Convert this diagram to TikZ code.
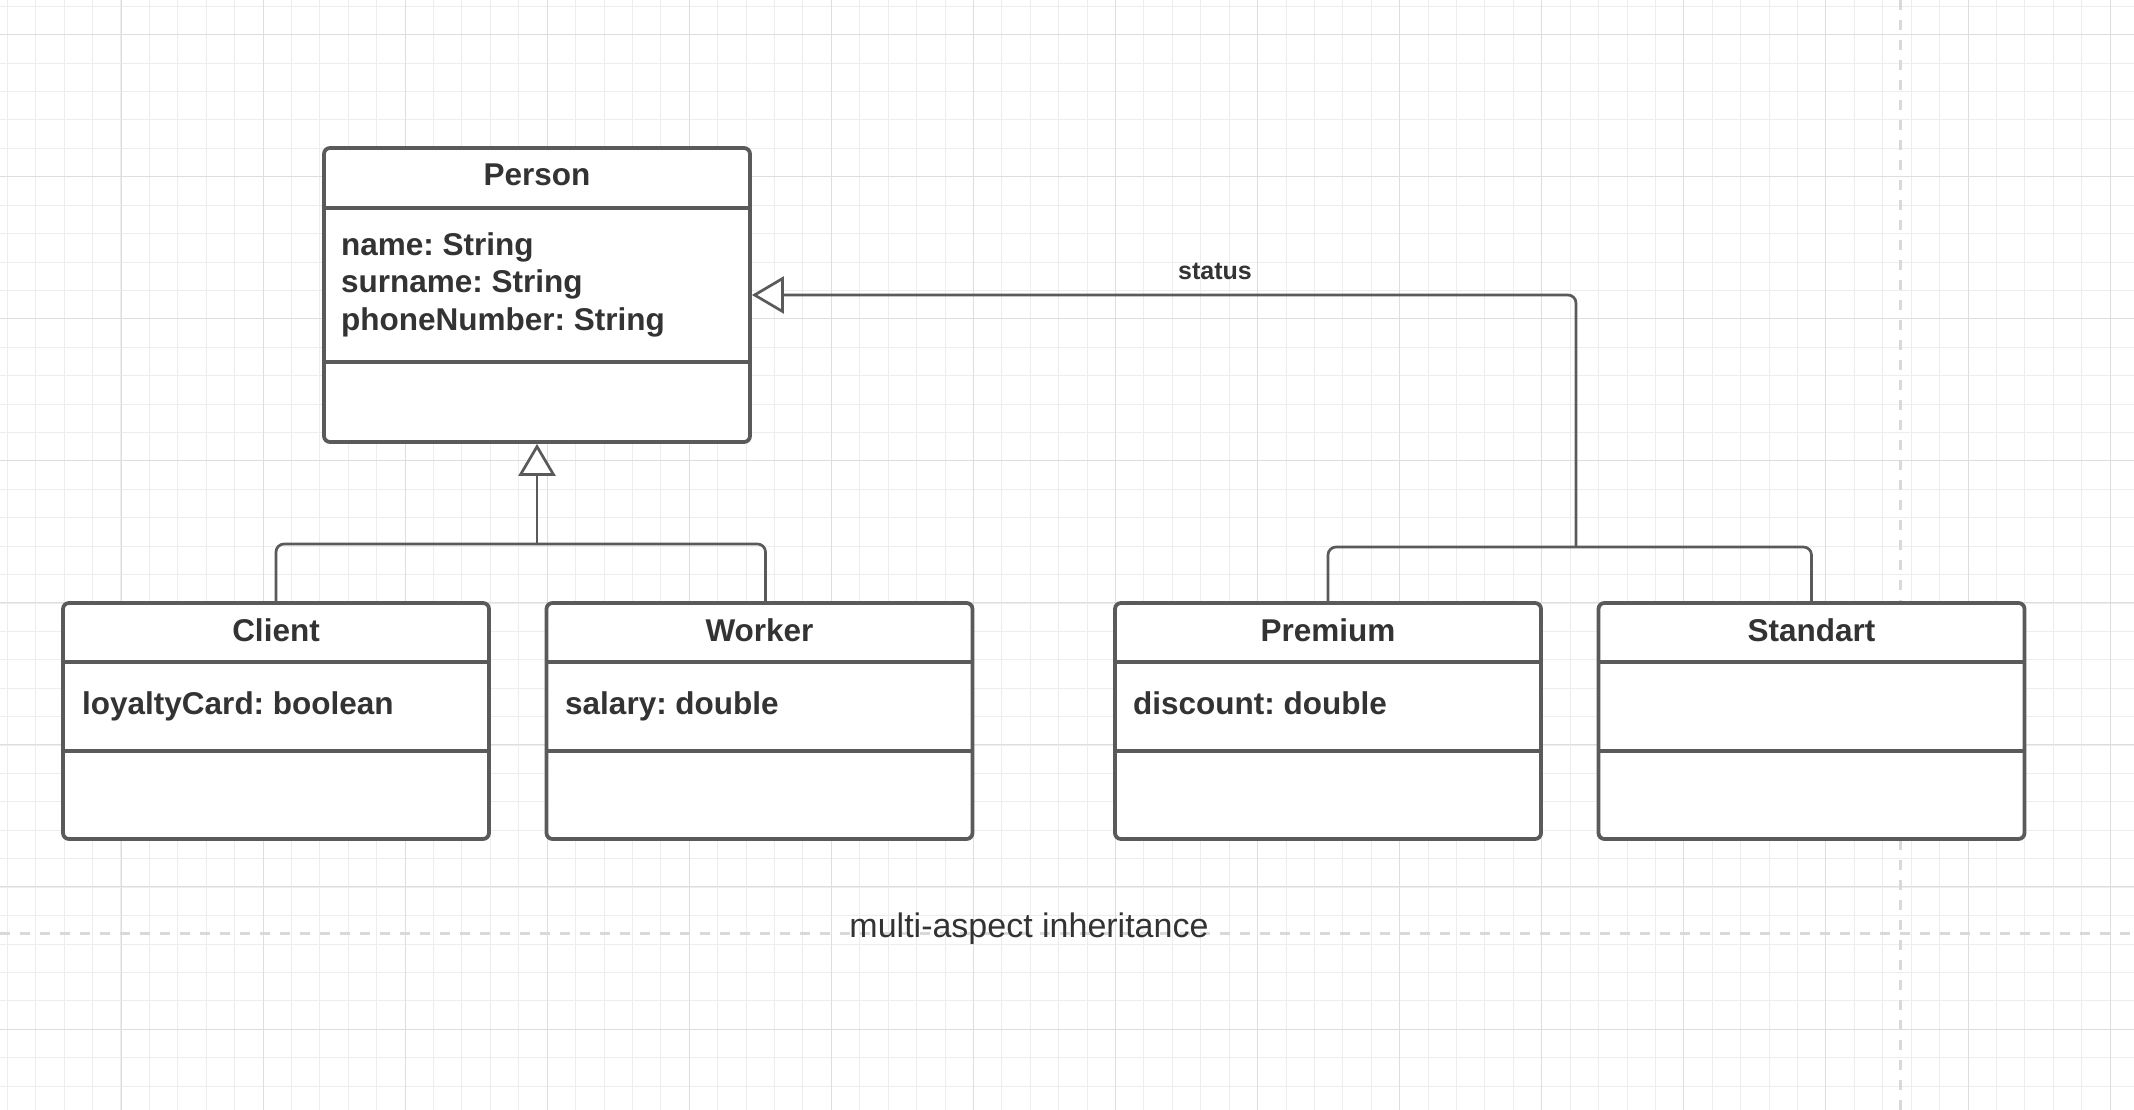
\documentclass[tikz,border=0pt]{standalone}
\usepackage{fontspec}
\setmainfont{Liberation Sans}
\usepackage{xcolor}
\usetikzlibrary{arrows.meta}
\frenchspacing
\definecolor{umlgray}{HTML}{5A5A5A}
\definecolor{umltext}{HTML}{333333}
\definecolor{gridlight}{HTML}{EDEDED}
\definecolor{griddark}{HTML}{DEDEDE}
\definecolor{pagedash}{HTML}{D9D9D9}
\tikzset{
  gridminor/.style={draw=gridlight, line width=1pt},
  gridmajor/.style={draw=griddark, line width=1pt},
  pageedge/.style={draw=pagedash, line width=3pt, dash pattern=on 10pt off 10pt},
  classbox/.style={draw=umlgray, fill=white, line width=3.8pt, rounded corners=6pt, minimum width=426pt, inner sep=0pt},
  classline/.style={draw=umlgray, line width=3.8pt},
  classname/.style={text=umltext, font=\bfseries\fontsize{31.5}{37}\selectfont, anchor=base, inner sep=0pt},
  classattr/.style={text=umltext, font=\bfseries\fontsize{31.5}{37}\selectfont, anchor=base west, inner sep=0pt},
  generalize/.style={draw=umlgray, line width=2.7pt, rounded corners=8pt},
  genarrow/.style={generalize, -{Triangle[length=32pt,width=37pt,fill=white]}},
  linelabel/.style={text=umltext, font=\bfseries\fontsize{25}{30}\selectfont, anchor=base, inner sep=0pt},
  caption/.style={text=umltext, font=\fontsize{34}{40}\selectfont, anchor=base, inner sep=0pt}
}

\begin{document}
\begin{tikzpicture}[x=1pt,y=-1pt]
\useasboundingbox (0,0) rectangle (2134,1110);
\fill[white] (0,0) rectangle (2134,1110);

\foreach \i in {0,...,74} \draw[gridminor] ({7.3+28.416*\i},0) -- ++(0,1110);
\foreach \j in {0,...,38} \draw[gridminor] (0,{6.3+28.416*\j}) -- ++(2134,0);
\foreach \i in {0,...,14} \draw[gridmajor] ({121+142.08*\i},0) -- ++(0,1110);
\foreach \j in {0,...,7} \draw[gridmajor] (0,{34.5+142.08*\j}) -- ++(2134,0);

\draw[pageedge] (1900,0) -- (1900,1110);
\draw[pageedge] (0,933) -- (2134,933);
\node[caption] (caption) at (1029,937) {multi-aspect inheritance};

\node[classbox, minimum height=294pt] (person) at (537,295) {};
\draw[classline] ([yshift=-62pt]person.north west) -- ([yshift=-62pt]person.north east);
\draw[classline] ([yshift=-216pt]person.north west) -- ([yshift=-216pt]person.north east);
\node[classname] (person-name) at (537,186) {Person};
\node[classattr] (person-a1) at (341,255) {name: String};
\node[classattr] (person-a2) at (341,292.5) {surname: String};
\node[classattr] (person-a3) at (341,330) {phoneNumber: String};

\node[classbox, minimum height=236pt] (client) at (276,721) {};
\draw[classline] ([yshift=-61pt]client.north west) -- ([yshift=-61pt]client.north east);
\draw[classline] ([yshift=-150pt]client.north west) -- ([yshift=-150pt]client.north east);
\node[classname] (client-name) at (276,641) {Client};
\node[classattr] (client-a1) at (82,714) {loyaltyCard: boolean};

\node[classbox, minimum height=236pt] (worker) at (759.5,721) {};
\draw[classline] ([yshift=-61pt]worker.north west) -- ([yshift=-61pt]worker.north east);
\draw[classline] ([yshift=-150pt]worker.north west) -- ([yshift=-150pt]worker.north east);
\node[classname] (worker-name) at (759.5,641) {Worker};
\node[classattr] (worker-a1) at (565,714) {salary: double};

\node[classbox, minimum height=236pt] (premium) at (1328,721) {};
\draw[classline] ([yshift=-61pt]premium.north west) -- ([yshift=-61pt]premium.north east);
\draw[classline] ([yshift=-150pt]premium.north west) -- ([yshift=-150pt]premium.north east);
\node[classname] (premium-name) at (1328,641) {Premium};
\node[classattr] (premium-a1) at (1133,714) {discount: double};

\node[classbox, minimum height=236pt] (standart) at (1811.5,721) {};
\draw[classline] ([yshift=-61pt]standart.north west) -- ([yshift=-61pt]standart.north east);
\draw[classline] ([yshift=-150pt]standart.north west) -- ([yshift=-150pt]standart.north east);
\node[classname] (standart-name) at (1811.5,641) {Standart};

\coordinate (bus1) at (537,544);
\draw[generalize] (client.north) |- (bus1);
\draw[generalize] ([xshift=6pt]worker.north) |- (bus1);
\draw[genarrow] (bus1) -- (person.south);

\coordinate (bus2) at (1576,547);
\draw[generalize] (premium.north) |- (bus2) -| (standart.north);
\draw[genarrow] (bus2) |- (person.east);
\node[linelabel] (status) at (1215,279) {status};
\end{tikzpicture}
\end{document}
